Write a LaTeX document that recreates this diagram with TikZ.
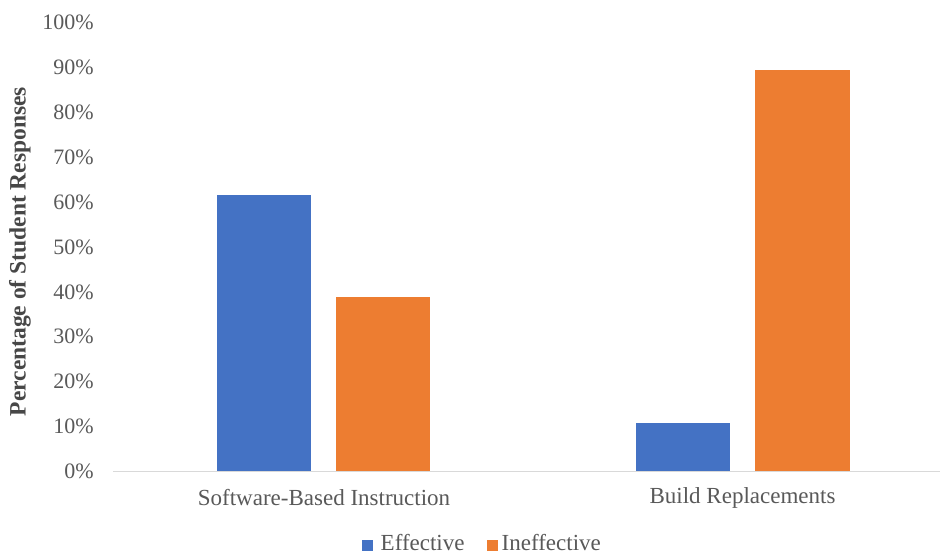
\documentclass[tikz,border=0pt]{standalone}
\usepackage{fontspec}
\setmainfont{Liberation Serif}
\definecolor{effblue}{HTML}{4472C4}
\definecolor{ineforange}{HTML}{ED7D31}
\definecolor{txtgray}{HTML}{595959}
\definecolor{axisgray}{HTML}{D9D9D9}
\begin{document}
\begin{tikzpicture}[x=1pt,y=-1pt,
  lbl/.style={text=txtgray,font=\fontsize{22}{26}\selectfont,inner sep=0pt},
  catlbl/.style={text=txtgray,font=\fontsize{23}{27}\selectfont,inner sep=0pt},
  tick/.style={lbl,anchor=east},
  bar/.style={inner sep=0pt,minimum width=94.3pt,anchor=south,draw=none},
  legbox/.style={inner sep=0pt,minimum width=11.5pt,minimum height=11.5pt}]
\useasboundingbox[fill=white] (0,0) rectangle (942,555);
% axis baseline
\coordinate (axL) at (113,471.5);
\coordinate (axR) at (940,471.5);
\draw[axisgray,line width=1.3pt] (axL) -- (axR);
% tick labels
\foreach \v [count=\i from 0] in {0,10,...,100}{
  \node[tick] (t\i) at (94,{471.5-4.49*\v}) {\v\%};
}
% y title
\node[text=txtgray!80!black,font=\fontsize{23.5}{27}\selectfont\bfseries,rotate=90,inner sep=0pt] (ytitle) at (20,251.5) {Percentage of Student Responses};
% bars
\node[bar,fill=effblue,minimum height=276.5pt] (b1) at (263.85,471.5) {};
\node[bar,fill=ineforange,minimum height=174.2pt] (o1) at (382.85,471.5) {};
\node[bar,fill=effblue,minimum height=48.2pt] (b2) at (682.85,471.5) {};
\node[bar,fill=ineforange,minimum height=401.2pt] (o2) at (802.5,471.5) {};
% category labels
\node[catlbl] (c1) at (324,498) {Software-Based Instruction};
\node[catlbl] (c2) at (742.5,498) {Build Replacements};
% legend
\node[legbox,fill=effblue] (lb) at (367.5,545.5) {};
\node[catlbl,anchor=west] (le) at (380.5,543) {Effective};
\node[legbox,fill=ineforange] (lo) at (492.5,545.5) {};
\node[catlbl,anchor=west] (li) at (501.5,543) {Ineffective};
\end{tikzpicture}
\end{document}
